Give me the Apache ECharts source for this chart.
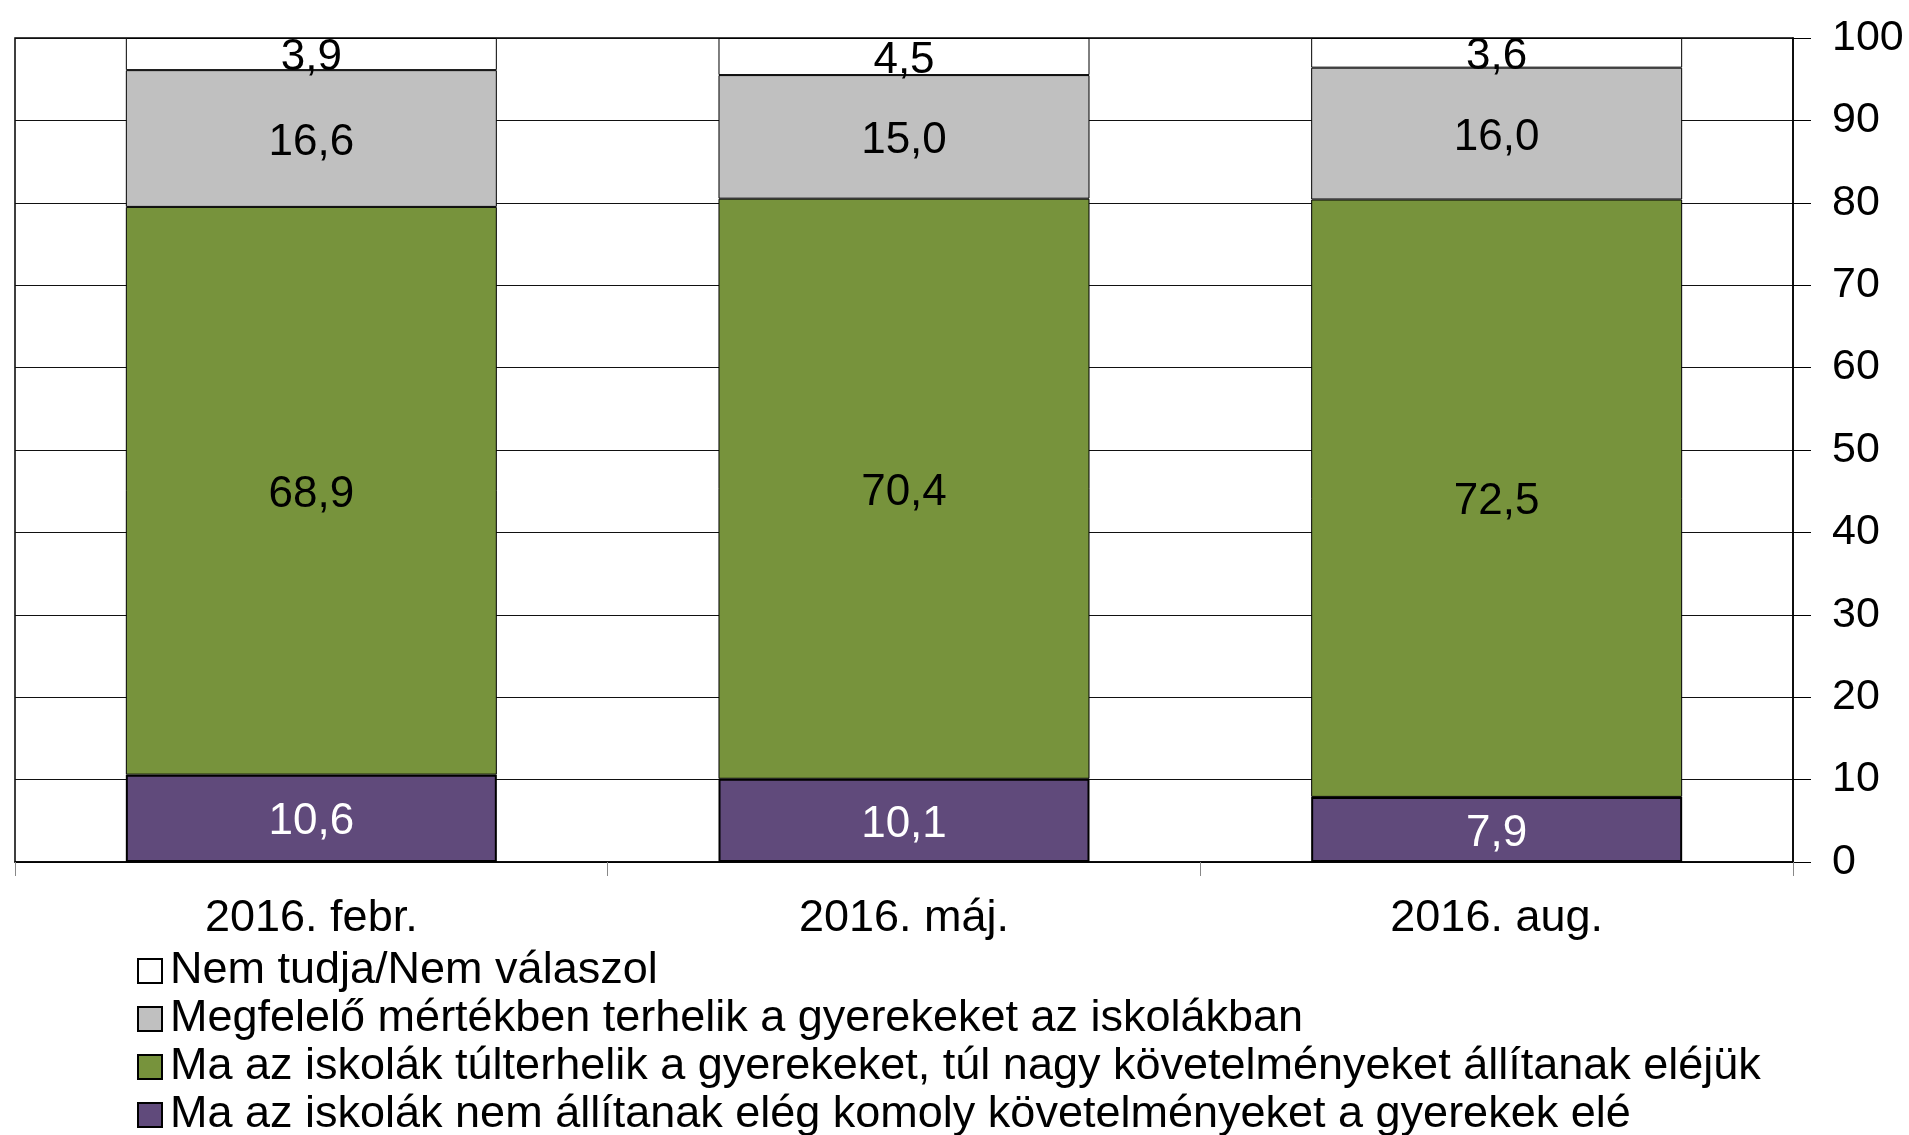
<!DOCTYPE html>
<html>
<head>
<meta charset="utf-8">
<script src="https://cdn.jsdelivr.net/npm/echarts@6/dist/echarts.min.js"></script>
<style>
  html, body { margin: 0; padding: 0; background: #fff; }
</style>
</head>
<body>
<!-- 图表容器 -->
<div id="container" style="width: 1909px; height: 1135px"></div>
<script>
// 分类（调查时间）
const categories = ['2016. febr.', '2016. máj.', '2016. aug.']
// 各系列名称
const nameKevés = 'Ma az iskolák nem állítanak elég komoly követelményeket a gyerekek elé'
const nameTúl = 'Ma az iskolák túlterhelik a gyerekeket, túl nagy követelményeket állítanak eléjük'
const nameMegfelelő = 'Megfelelő mértékben terhelik a gyerekeket az iskolákban'
const nameNemTudja = 'Nem tudja/Nem válaszol'
// 各系列数值（%）
const kevés = [10.6, 10.1, 7.9]
const túl = [68.9, 70.4, 72.5]
const megfelelő = [16.6, 15.0, 16.0]
const nemTudja = [3.9, 4.5, 3.6]
// 纵轴刻度
const yTicks = [0, 10, 20, 30, 40, 50, 60, 70, 80, 90, 100]

const font = "'Liberation Sans', Arial, sans-serif"
// 小数点用逗号
const fmt = (p) => p.value.toFixed(1).replace('.', ',')

const myChart = echarts.init(document.getElementById('container'))

function bar(name, data, color, textColor, borderWidth) {
  return {
    name: name,
    type: 'bar',
    stack: 'total',
    barWidth: '62.6%',
    data: data,
    itemStyle: { color: color, borderColor: '#000', borderWidth: borderWidth },
    label: {
      show: true,
      position: 'inside',
      offset: [0, 4],
      formatter: fmt,
      color: textColor,
      fontFamily: font,
      fontSize: 44
    }
  }
}

const option = {
  animation: false,
  backgroundColor: '#fff',
  grid: {
    show: true,
    left: 15,
    right: 116,
    top: 38,
    bottom: 273,
    borderColor: '#000',
    borderWidth: 1.5
  },
  legend: {
    orient: 'vertical',
    left: 137,
    top: 947,
    height: 200,
    padding: 0,
    icon: 'rect',
    itemWidth: 24,
    itemHeight: 24,
    itemGap: 0,
    data: [nameNemTudja, nameMegfelelő, nameTúl, nameKevés],
    textStyle: { fontFamily: font, fontSize: 45, color: '#000', lineHeight: 48, padding: [0, 0, 0, 3] }
  },
  xAxis: {
    type: 'category',
    data: categories,
    axisLine: { lineStyle: { color: '#000', width: 1.5 } },
    axisTick: { show: true, length: 14, lineStyle: { color: '#888' } },
    axisLabel: { fontFamily: font, fontSize: 45, color: '#000', margin: 34 }
  },
  yAxis: {
    type: 'value',
    position: 'right',
    min: yTicks[0],
    max: yTicks[yTicks.length - 1],
    interval: 10,
    axisLine: { show: true, lineStyle: { color: '#000', width: 1.5 } },
    axisTick: { show: true, length: 18, lineStyle: { color: '#000' } },
    axisLabel: { fontFamily: font, fontSize: 43, color: '#000', margin: 39 },
    splitLine: { show: true, lineStyle: { color: '#111', width: 1 } }
  },
  series: [
    bar(nameKevés, kevés, '#604A7B', '#fff', 2),
    bar(nameTúl, túl, '#77933C', '#000', 1),
    bar(nameMegfelelő, megfelelő, '#C0C0C0', '#000', 1),
    bar(nameNemTudja, nemTudja, '#FFFFFF', '#000', 1)
  ]
}

myChart.setOption(option)
</script>
</body>
</html>
